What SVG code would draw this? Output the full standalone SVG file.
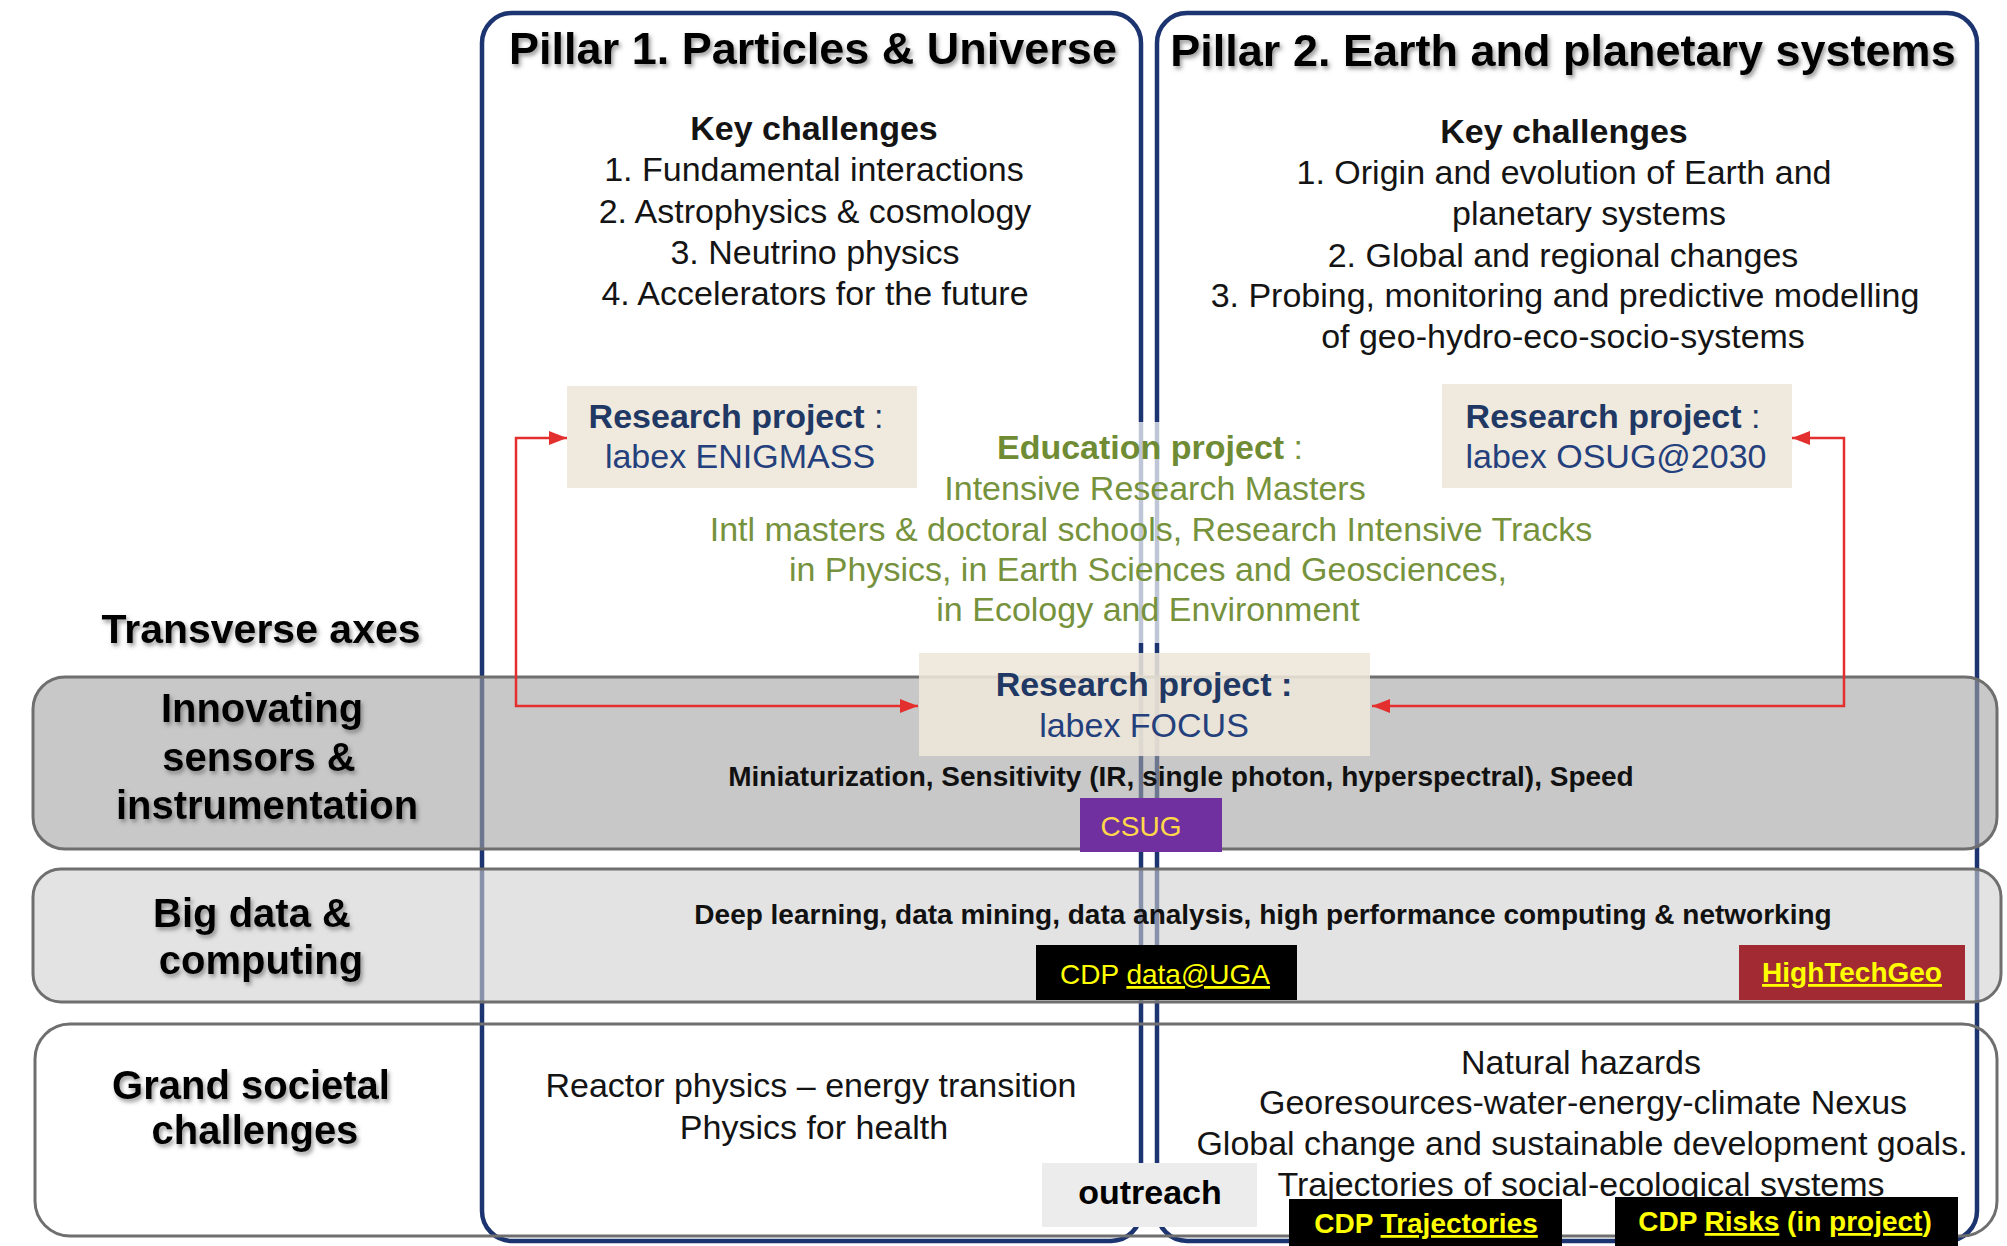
<svg xmlns="http://www.w3.org/2000/svg" width="2007" height="1246" viewBox="0 0 2007 1246">
<defs>
<style>
text{font-family:"Liberation Sans",Arial,sans-serif;text-anchor:middle}
.reg{font-size:34px;fill:#141414}
.bold{font-weight:bold}
.title{font-size:45px;font-weight:bold;fill:#000}
.lab{font-size:40px;font-weight:bold;fill:#000}
.pillar{fill:none;stroke:#1c3470;stroke-width:4.5}
.band{stroke:#6f6f6f;stroke-width:3}
.proj{fill:#ede6da;fill-opacity:0.88}
.rp{font-size:34px;fill:#1f3864}
.lbx{font-size:34px;fill:#24407c}
.edu{font-size:34px;fill:#76923c}
.axis{font-size:28px;font-weight:bold;fill:#111}
.yel{fill:#ffff00;font-size:28px}
.conn{fill:none;stroke:#e3302e;stroke-width:2.5}
</style>
<filter id="sh" x="-10%" y="-30%" width="120%" height="160%">
<feDropShadow dx="2" dy="3" stdDeviation="2" flood-color="#555" flood-opacity="0.6"/>
</filter>
<marker id="arr" viewBox="0 0 18 14" refX="18" refY="7" markerWidth="18" markerHeight="14" markerUnits="userSpaceOnUse" orient="auto-start-reverse">
<path d="M0,0 L18,7 L0,14 z" fill="#e3302e"/>
</marker>
</defs>
<rect width="2007" height="1246" fill="#fff"/>

<g id="pillar1">
<rect class="pillar" x="482" y="13" width="659" height="1228" rx="30"/>
<text class="title" x="813" y="64" filter="url(#sh)">Pillar 1. Particles &amp; Universe</text>
<text class="reg bold" x="814" y="140">Key challenges</text>
<text class="reg" x="814" y="181">1. Fundamental interactions</text>
<text class="reg" x="815" y="223">2. Astrophysics &amp; cosmology</text>
<text class="reg" x="815" y="264">3. Neutrino physics</text>
<text class="reg" x="815" y="305">4. Accelerators for the future</text>
</g>

<g id="pillar2">
<rect class="pillar" x="1157" y="13" width="820" height="1228" rx="30"/>
<text class="title" x="1563" y="66" filter="url(#sh)">Pillar 2. Earth and planetary systems</text>
<text class="reg bold" x="1564" y="143">Key challenges</text>
<text class="reg" x="1564" y="184">1.  Origin and evolution of Earth and</text>
<text class="reg" x="1589" y="225">planetary systems</text>
<text class="reg" x="1563" y="267">2.  Global and regional changes</text>
<text class="reg" x="1565" y="307">3.  Probing, monitoring and predictive modelling</text>
<text class="reg" x="1563" y="348">of geo-hydro-eco-socio-systems</text>
</g>

<g id="education">
<rect x="700" y="422" width="900" height="221" fill="#fff" fill-opacity="0.72"/>
<text class="edu" x="1150" y="459"><tspan font-weight="bold" fill="#6f8c34">Education project</tspan> :</text>
<text class="edu" x="1155" y="500">Intensive Research Masters</text>
<text class="edu" x="1151" y="541">Intl masters &amp; doctoral schools, Research Intensive Tracks</text>
<text class="edu" x="1148" y="581">in Physics, in Earth Sciences and Geosciences,</text>
<text class="edu" x="1148" y="621">in Ecology and Environment</text>
</g>

<g id="band-sensors">
<rect class="band" x="33" y="677" width="1964" height="172" rx="32" fill="#a3a3a3" fill-opacity="0.6"/>
<text class="lab" x="262" y="722" filter="url(#sh)">Innovating</text>
<text class="lab" x="259" y="771" filter="url(#sh)">sensors &amp;</text>
<text class="lab" x="267" y="819" filter="url(#sh)">instrumentation</text>
<text class="axis" x="1181" y="786">Miniaturization, Sensitivity (IR, single photon, hyperspectral), Speed</text>
</g>

<g id="band-bigdata">
<rect class="band" x="33" y="869" width="1968" height="133" rx="28" fill="#d0d0d0" fill-opacity="0.6"/>
<text class="lab" x="252" y="927" filter="url(#sh)">Big data &amp;</text>
<text class="lab" x="261" y="974" filter="url(#sh)">computing</text>
<text class="axis" x="1263" y="924">Deep learning, data mining, data analysis, high performance computing &amp; networking</text>
</g>

<g id="band-societal">
<rect class="band" x="35" y="1024" width="1962" height="212" rx="35" fill="none"/>
<text class="lab" x="251" y="1099" filter="url(#sh)">Grand societal</text>
<text class="lab" x="255" y="1144" filter="url(#sh)">challenges</text>
<text class="reg" x="811" y="1097">Reactor physics – energy transition</text>
<text class="reg" x="814" y="1139">Physics for health</text>
<text class="reg" x="1581" y="1074">Natural hazards</text>
<text class="reg" x="1583" y="1114">Georesources-water-energy-climate  Nexus</text>
<text class="reg" x="1582" y="1155">Global change and sustainable development goals.</text>
<text class="reg" x="1581" y="1196">Trajectories of social-ecological systems</text>
</g>

<g id="transverse-axes">
<text x="261" y="643" font-size="41" font-weight="bold" fill="#000" filter="url(#sh)">Transverse axes</text>
</g>

<g id="enigmass">
<rect class="proj" x="567" y="386" width="350" height="102"/>
<text class="rp" x="736" y="428"><tspan font-weight="bold">Research project</tspan> :</text>
<text class="lbx" x="740" y="468">labex ENIGMASS</text>
</g>

<g id="osug">
<rect class="proj" x="1442" y="384" width="350" height="104"/>
<text class="rp" x="1613" y="428"><tspan font-weight="bold">Research project</tspan> :</text>
<text class="lbx" x="1616" y="468">labex OSUG@2030</text>
</g>

<g id="focus">
<rect class="proj" x="919" y="653" width="451" height="103"/>
<text class="rp bold" x="1144" y="696">Research project :</text>
<text class="lbx" x="1144" y="737">labex FOCUS</text>
</g>

<g id="csug">
<rect x="1080" y="798" width="142" height="54" fill="#7030a0"/>
<text x="1141" y="836" font-size="28" fill="#ffd84a">CSUG</text>
</g>

<g id="cdp-data">
<rect x="1036" y="945" width="261" height="55" fill="#000"/>
<text class="yel" x="1165" y="984">CDP <tspan text-decoration="underline">data@UGA</tspan></text>
</g>

<g id="hightechgeo">
<rect x="1739" y="945" width="226" height="55" fill="#a12a33"/>
<text class="yel" x="1852" y="982" font-weight="bold" text-decoration="underline">HighTechGeo</text>
</g>

<g id="outreach">
<rect x="1042" y="1163" width="215" height="64" fill="#ececec"/>
<text x="1150" y="1204" font-size="34" font-weight="bold" fill="#000">outreach</text>
</g>

<g id="cdp-trajectories">
<rect x="1289" y="1199" width="273" height="47" fill="#000"/>
<text class="yel" x="1426" y="1233" font-weight="bold">CDP <tspan text-decoration="underline">Trajectories</tspan></text>
</g>

<g id="cdp-risks">
<rect x="1615" y="1197" width="343" height="49" fill="#000"/>
<text class="yel" x="1785" y="1231" font-weight="bold">CDP <tspan text-decoration="underline">Risks</tspan> (in <tspan text-decoration="underline">project</tspan>)</text>
</g>

<g id="connectors">
<path class="conn" d="M567,438 L516,438 L516,706 L918,706" marker-start="url(#arr)" marker-end="url(#arr)"/>
<path class="conn" d="M1792,438 L1844,438 L1844,706 L1372,706" marker-start="url(#arr)" marker-end="url(#arr)"/>
</g>
</svg>
